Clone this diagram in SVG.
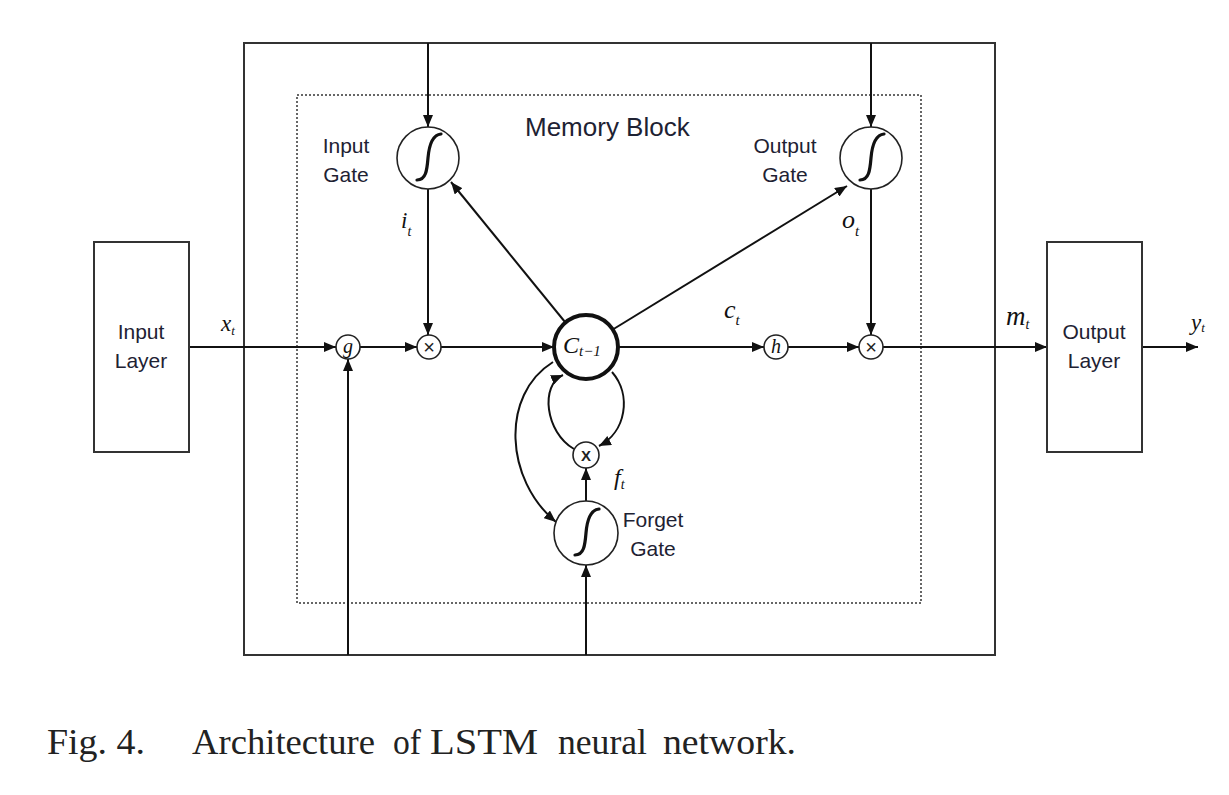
<svg xmlns="http://www.w3.org/2000/svg" xmlns:xlink="http://www.w3.org/1999/xlink" width="1229" height="795" viewBox="0 0 1229 795">
<style>
.ln{fill:none;stroke:#111;stroke-width:2}
.ar{marker-end:url(#arr)}
.box{fill:#fff;stroke:#333;stroke-width:2}
.nd{fill:#fff;stroke:#222;stroke-width:1.6}
.sig{fill:none;stroke:#111;stroke-width:3.2;stroke-linecap:round}
.lbl{font-family:"Liberation Sans",Arial,sans-serif;font-size:21px;fill:#1e2233;text-anchor:middle}
.m{font-family:"Liberation Serif","Times New Roman",serif;font-style:italic;fill:#111}
.cap{font-family:"Liberation Serif","Times New Roman",serif;font-size:35px;fill:#222}
</style>
<defs>
<marker id="arr" viewBox="0 0 12 10" refX="12" refY="5" markerWidth="12" markerHeight="10" markerUnits="userSpaceOnUse" orient="auto"><path d="M0,0 L12,5 L0,10 z" fill="#111"/></marker>
<path id="sig" class="sig" d="M-11,22 C-2,22 -1,12 0,0 C1,-12 4,-23 13,-24"/>
</defs>
<rect width="1229" height="795" fill="#fff"/>

<g id="outer-frame"><rect x="244" y="43" width="751" height="612" fill="none" stroke="#333" stroke-width="2"/></g>
<g id="memory-block">
<rect x="297" y="95" width="624" height="508" fill="none" stroke="#666" stroke-width="2" stroke-dasharray="2 2"/>
<text x="525" y="136" font-family="'Liberation Sans',Arial,sans-serif" font-size="26" fill="#1e2233">Memory Block</text>
</g>

<g id="connectors">
<path class="ln ar" d="M189,347 H336"/>
<path class="ln ar" d="M360,347 H417"/>
<path class="ln ar" d="M441,347 H554"/>
<path class="ln ar" d="M618,347 H764"/>
<path class="ln ar" d="M788,347 H859"/>
<path class="ln ar" d="M883,347 H1047"/>
<path class="ln ar" d="M1142,347 H1198"/>
<path class="ln ar" d="M428,43 V127"/>
<path class="ln ar" d="M428,189 V335"/>
<path class="ln ar" d="M871,43 V127"/>
<path class="ln ar" d="M871,189 V335"/>
<path class="ln ar" d="M565,322 L451,182"/>
<path class="ln ar" d="M612,330 L847,186"/>
<path class="ln ar" d="M348,655 V359"/>
<path class="ln ar" d="M586,655 V565"/>
<path class="ln ar" d="M586,501 V468"/>
<path class="ln ar" d="M553,362 C500,395 505,480 556,522"/>
<path class="ln ar" d="M574,449 C545,432 540,385 563,375"/>
<path class="ln ar" d="M612,372 C632,395 626,432 599,446"/>
</g>

<g id="input-layer">
<rect class="box" x="94" y="242" width="95" height="210"/>
<text class="lbl" x="141" y="339">Input</text>
<text class="lbl" x="141" y="368">Layer</text>
</g>
<g id="output-layer">
<rect class="box" x="1047" y="242" width="95" height="210"/>
<text class="lbl" x="1094" y="339">Output</text>
<text class="lbl" x="1094" y="368">Layer</text>
</g>

<g id="g-node"><circle class="nd" cx="348" cy="347" r="12"/><text class="m" x="348" y="353" font-size="20" text-anchor="middle">g</text></g>
<g id="input-mult"><circle class="nd" cx="429" cy="347" r="12"/><text x="429" y="354" font-family="'Liberation Sans',Arial,sans-serif" font-size="20" fill="#222" text-anchor="middle">×</text></g>
<g id="cell">
<circle cx="586" cy="347" r="32" fill="#fff" stroke="#111" stroke-width="4"/>
<text class="m" x="563" y="353" font-size="24">C<tspan font-size="15" dy="3">t−1</tspan></text>
</g>
<g id="h-node"><circle class="nd" cx="776" cy="347" r="12"/><text class="m" x="776" y="353" font-size="20" text-anchor="middle">h</text></g>
<g id="output-mult"><circle class="nd" cx="871" cy="347" r="12"/><text x="871" y="354" font-family="'Liberation Sans',Arial,sans-serif" font-size="20" fill="#222" text-anchor="middle">×</text></g>
<g id="forget-mult"><circle class="nd" cx="586" cy="455" r="13"/><text x="586" y="461" font-family="'Liberation Sans',Arial,sans-serif" font-size="15" font-weight="bold" fill="#222" text-anchor="middle">X</text></g>

<g id="input-gate">
<circle class="nd" cx="428" cy="158" r="31"/>
<use xlink:href="#sig" href="#sig" x="428" y="158"/>
<text class="lbl" x="346" y="153">Input</text>
<text class="lbl" x="346" y="182">Gate</text>
</g>
<g id="output-gate">
<circle class="nd" cx="871" cy="158" r="31"/>
<use xlink:href="#sig" href="#sig" x="871" y="158"/>
<text class="lbl" x="785" y="153">Output</text>
<text class="lbl" x="785" y="182">Gate</text>
</g>
<g id="forget-gate">
<circle class="nd" cx="586" cy="533" r="32"/>
<use xlink:href="#sig" href="#sig" x="586" y="533"/>
<text class="lbl" x="653" y="527">Forget</text>
<text class="lbl" x="653" y="556">Gate</text>
</g>

<g id="labels">
<text class="m" x="221" y="331" font-size="23">x<tspan font-size="13" dy="4">t</tspan></text>
<text class="m" x="401" y="228" font-size="23">i<tspan font-size="14" dy="8">t</tspan></text>
<text class="m" x="842" y="228" font-size="26">o<tspan font-size="15" dy="8">t</tspan></text>
<text class="m" x="724" y="318" font-size="26">c<tspan font-size="15" dy="7">t</tspan></text>
<text class="m" x="1006" y="325" font-size="27">m<tspan font-size="14" dy="4">t</tspan></text>
<text class="m" x="1191" y="330" font-size="23">y<tspan font-size="13" dy="2">t</tspan></text>
<text class="m" x="614" y="485" font-size="24">f<tspan font-size="14" dy="4">t</tspan></text>
</g>

<g id="caption">
<text class="cap" x="47" y="754" textLength="98" lengthAdjust="spacingAndGlyphs">Fig. 4.</text>
<text class="cap" x="192" y="754" textLength="183" lengthAdjust="spacingAndGlyphs">Architecture</text>
<text class="cap" x="393" y="754" textLength="28" lengthAdjust="spacingAndGlyphs">of</text>
<text class="cap" x="430" y="754" textLength="108" lengthAdjust="spacingAndGlyphs">LSTM</text>
<text class="cap" x="558" y="754" textLength="89" lengthAdjust="spacingAndGlyphs">neural</text>
<text class="cap" x="663" y="754" textLength="133" lengthAdjust="spacingAndGlyphs">network.</text>
</g>
</svg>
